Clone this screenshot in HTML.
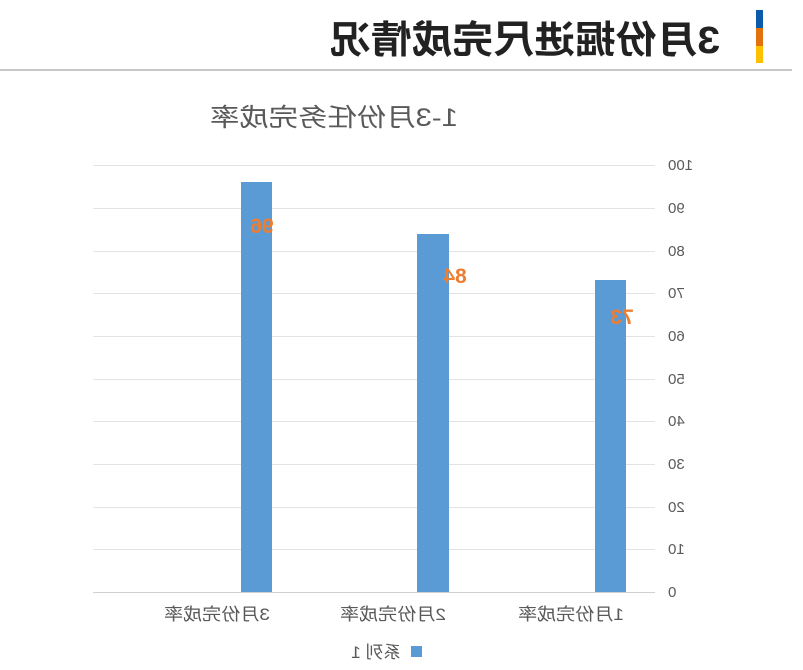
<!DOCTYPE html>
<html><head><meta charset="utf-8"><style>
html,body{margin:0;padding:0;background:#fff;}
svg{display:block;font-family:"Liberation Sans","Noto Sans CJK SC",sans-serif;}
</style></head><body>
<svg width="803" height="670" viewBox="0 0 803 670" xmlns="http://www.w3.org/2000/svg">
<g transform="translate(803,0) scale(-1,1)">
  <rect x="40" y="10" width="7" height="18" fill="#0B5BAA"/>
  <rect x="40" y="28" width="7" height="18" fill="#E2720E"/>
  <rect x="40" y="46" width="7" height="17" fill="#FFC000"/>
  <text x="83" y="53" font-size="38" font-weight="bold" fill="#222" textLength="390" lengthAdjust="spacingAndGlyphs">3月份掘进尺完成情况</text>
  <rect x="11" y="69" width="792" height="2" fill="#c8c8c8"/>
  <text x="469" y="126" font-size="25" fill="#595959" text-anchor="middle" textLength="248" lengthAdjust="spacingAndGlyphs">1-3月份任务完成率</text>
  <g stroke="#e3e3e3" stroke-width="1">
    <line x1="148" x2="710" y1="165.5" y2="165.5"/>
    <line x1="148" x2="710" y1="208.5" y2="208.5"/>
    <line x1="148" x2="710" y1="251.5" y2="251.5"/>
    <line x1="148" x2="710" y1="293.5" y2="293.5"/>
    <line x1="148" x2="710" y1="336.5" y2="336.5"/>
    <line x1="148" x2="710" y1="379.5" y2="379.5"/>
    <line x1="148" x2="710" y1="421.5" y2="421.5"/>
    <line x1="148" x2="710" y1="464.5" y2="464.5"/>
    <line x1="148" x2="710" y1="507.5" y2="507.5"/>
    <line x1="148" x2="710" y1="549.5" y2="549.5"/>
  </g>
  <line x1="148" x2="710" y1="592.5" y2="592.5" stroke="#d0d0d0"/>
  <g font-size="15" fill="#595959" text-anchor="end">
    <text x="135" y="170">100</text><text x="135" y="213">90</text><text x="135" y="256">80</text>
    <text x="135" y="298">70</text><text x="135" y="341">60</text><text x="135" y="384">50</text>
    <text x="135" y="426">40</text><text x="135" y="469">30</text><text x="135" y="512">20</text>
    <text x="135" y="554">10</text><text x="135" y="597">0</text>
  </g>
  <rect x="531" y="182" width="31" height="410" fill="#5B9BD5"/>
  <rect x="354" y="234" width="32" height="358" fill="#5B9BD5"/>
  <rect x="177" y="280" width="31" height="312" fill="#5B9BD5"/>
  <g font-size="21" font-weight="bold" fill="#ED7D31" text-anchor="middle">
    <text x="541" y="233">96</text><text x="348" y="283">84</text><text x="181" y="324">73</text>
  </g>
  <g font-size="17" fill="#595959" text-anchor="middle">
    <text x="586" y="620" textLength="106" lengthAdjust="spacingAndGlyphs">3月份完成率</text>
    <text x="410" y="620" textLength="106" lengthAdjust="spacingAndGlyphs">2月份完成率</text>
    <text x="232" y="620" textLength="106" lengthAdjust="spacingAndGlyphs">1月份完成率</text>
  </g>
  <rect x="381" y="646" width="11" height="11" fill="#5B9BD5"/>
  <text x="402" y="658" font-size="17" fill="#595959" textLength="50" lengthAdjust="spacingAndGlyphs">系列 1</text>
</g>
</svg>
</body></html>
